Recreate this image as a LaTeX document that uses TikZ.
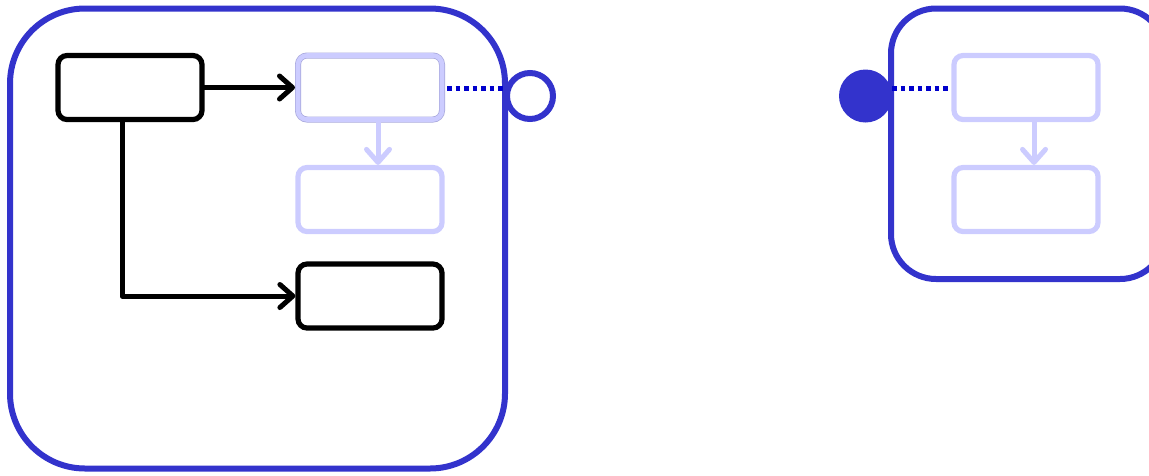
\documentclass[tikz,border=0pt]{standalone}
\usepackage{tikz}
\usetikzlibrary{arrows.meta}
\usetikzlibrary{calc}
\usetikzlibrary{positioning}

\definecolor{frameblue}{HTML}{3333CC}
\definecolor{linkblue}{HTML}{0000CC}
\definecolor{paleblue}{HTML}{CCCCFF}
\definecolor{paleedge}{HTML}{A8A8DC}

\tikzset{
	statebox/.style={draw, rounded corners=9pt, line width=5.2pt, minimum width=144pt, minimum height=64pt, inner sep=0pt},
	darkbox/.style={statebox, draw=black},
	palebox/.style={statebox, draw=paleblue},
	flow/.style={line width=5pt, line cap=round, line join=round, -{Straight Barb[length=13pt, width=23pt, round]}},
	link/.style={draw=linkblue, line width=5pt, dash pattern=on 4.5pt off 4pt},
	frame/.style={draw=frameblue, line width=6pt}
}

\begin{document}
\begin{tikzpicture}[x=1pt, y=-1pt]
	\useasboundingbox (0,0) rectangle (1149,475);
	\clip (0,0) rectangle (1149,475);

	\draw[frame, rounded corners=75pt] (10,8.5) rectangle (505,468.5);
	\draw[frame, rounded corners=45pt] (891,8.5) rectangle (1165,279);

	\node[darkbox] (start) at (130,87.5) {};
	\node[palebox, draw=paleedge, line width=6pt] (entry) at (370,87.5) {};
	\node[palebox, line width=4.6pt] at (370,87.5) {};
	\node[palebox] (inner) at (370,199.5) {};
	\node[darkbox] (done) at (370,296) {};

	\node[frame, fill=white, circle, minimum size=46pt, inner sep=0pt] (exit) at (530,96) {};
	\node[circle, fill=frameblue, minimum size=53pt, inner sep=0pt] (enter) at (865.5,96) {};

	\node[palebox] (target) at (1026,87.5) {};
	\node[palebox] (after) at (1026,199.5) {};

	\draw[flow] (start.east) -- (entry.west);
	\draw[flow] ([xshift=-8pt]start.south) |- (done.west);
	\draw[flow, paleblue] ([xshift=8pt]entry.south) -- ([xshift=8pt]inner.north);
	\draw[flow, paleblue] ([xshift=8pt]target.south) -- ([xshift=8pt]after.north);

	\draw[link] ([xshift=2pt]entry.east |- 0,88) -- (exit.west |- 0,88);
	\draw[link] (enter.east |- 0,88) -- ([xshift=-2pt]target.west |- 0,88);
\end{tikzpicture}
\end{document}
